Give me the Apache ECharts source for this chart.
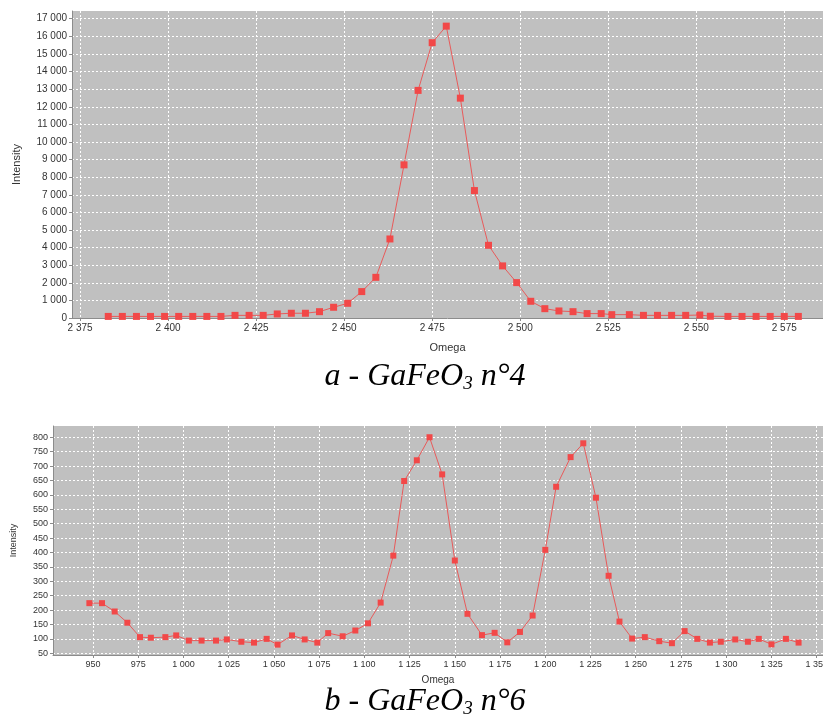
<!DOCTYPE html>
<html><head><meta charset="utf-8">
<script src="https://cdn.jsdelivr.net/npm/echarts@6/dist/echarts.min.js"></script>
<style>html,body{margin:0;padding:0;background:#fff}#c{width:823px;height:715px}</style>
</head><body><div id="c"></div>
<script>
// Chart a - GaFeO3 n°4
const omegaA = [2383,2387,2391,2395,2399,2403,2407,2411,2415,2419,2423,2427,2431,2435,2439,2443,2447,2451,2455,2459,2463,2467,2471,2475,2479,2483,2487,2491,2495,2499,2503,2507,2511,2515,2519,2523,2526,2531,2535,2539,2543,2547,2551,2554,2559,2563,2567,2571,2575,2579];
const intensityA = [90,90,90,90,90,90,90,90,90,150,150,150,230,270,270,360,610,835,1500,2310,4490,8700,12930,15640,16580,12490,7240,4130,2960,2010,950,530,400,360,250,250,190,190,150,150,150,150,170,100,90,90,90,90,90,90];
const xTicksA = [2375,2400,2425,2450,2475,2500,2525,2550,2575];
const yTicksA = [0,1000,2000,3000,4000,5000,6000,7000,8000,9000,10000,11000,12000,13000,14000,15000,16000,17000];
// Chart b - GaFeO3 n°6
const omegaB = [948,955,962,969,976,982,990,996,1003,1010,1018,1024,1032,1039,1046,1052,1060,1067,1074,1080,1088,1095,1102,1109,1116,1122,1129,1136,1143,1150,1157,1165,1172,1179,1186,1193,1200,1206,1214,1221,1228,1235,1241,1248,1255,1263,1270,1277,1284,1291,1297,1305,1312,1318,1325,1333,1340];
const intensityB = [224,224,195,156,106,104,106,112,94,94,94,98,90,87,100,80,112,98,87,120,109,129,154,226,389,648,720,800,671,372,187,113,121,88,124,181,409,628,731,779,590,319,160,101,106,92,85,127,100,87,90,98,90,100,81,100,87];
const xTicksB = [950,975,1000,1025,1050,1075,1100,1125,1150,1175,1200,1225,1250,1275,1300,1325,1350];
const yTicksB = [50,100,150,200,250,300,350,400,450,500,550,600,650,700,750,800];
const captionA = ['a - GaFeO', '3', ' n°4'];
const captionB = ['b - GaFeO', '3', ' n°6'];

function fmt(v){ return String(Math.round(v)).replace(/\B(?=(\d{3})+(?!\d))/g,' '); }

const lineColor = '#e85a5a';
const markColor = '#f24848';
const gridLine = {show:true, lineStyle:{color:'#ffffff', type:[2,2], width:1}};
const axisL = {show:true, lineStyle:{color:'#8c8c8c'}};
const sans = 'Liberation Sans, Arial, sans-serif';
const serifRich = (fs, sfs) => ({
  m:{fontFamily:'Liberation Serif',fontStyle:'italic',fontWeight:'normal',fontSize:fs,color:'#000',lineHeight:34,verticalAlign:'bottom'},
  s:{fontFamily:'Liberation Serif',fontStyle:'italic',fontWeight:'normal',fontSize:sfs,color:'#000',lineHeight:34,verticalAlign:'bottom'}
});

function xAx(grid, ticks, min, max, fs, nfs, gap){
  return {type:'value', gridIndex:grid, min:min, max:max, name:'Omega', nameLocation:'middle', nameGap:gap,
    nameTextStyle:{fontFamily:sans,fontSize:nfs,color:'#333'},
    axisLine:axisL, axisTick:{show:true,length:3,lineStyle:{color:'#8c8c8c'},customValues:ticks},
    axisLabel:{fontFamily:sans,fontSize:fs,color:'#333',margin:5,formatter:fmt,customValues:ticks},
    splitLine:gridLine};
}
function yAx(grid, ticks, min, max, fs, nfs, gap){
  return {type:'value', gridIndex:grid, min:min, max:max, name:'Intensity', nameLocation:'middle', nameGap:gap, nameRotate:90,
    nameTextStyle:{fontFamily:sans,fontSize:nfs,color:'#333'},
    axisLine:axisL, axisTick:{show:true,length:3,lineStyle:{color:'#8c8c8c'},customValues:ticks},
    axisLabel:{fontFamily:sans,fontSize:fs,color:'#333',margin:5,formatter:fmt,customValues:ticks},
    splitLine:gridLine};
}

const chart = echarts.init(document.getElementById('c'), null, {renderer:'canvas'});
chart.setOption({
  animation:false,
  backgroundColor:'#ffffff',
  title:[
    {text:'{m|'+captionA[0]+'}{s|'+captionA[1]+'}{m|'+captionA[2]+'}', left:420, top:354, textAlign:'center',
     textStyle:{fontWeight:'normal', rich:serifRich(32,19)}},
    {text:'{m|'+captionB[0]+'}{s|'+captionB[1]+'}{m|'+captionB[2]+'}', left:420, top:679, textAlign:'center',
     textStyle:{fontWeight:'normal', rich:serifRich(32,19)}}
  ],
  grid:[
    {left:72, top:11, width:751, height:307, show:true, backgroundColor:'#c0c0c0', borderWidth:0, outerBoundsMode:'none', containLabel:false},
    {left:53, top:426, width:770, height:229, show:true, backgroundColor:'#c0c0c0', borderWidth:0, outerBoundsMode:'none', containLabel:false}
  ],
  xAxis:[ xAx(0, xTicksA, 2372.7, 2586, 10, 11, 24), xAx(1, xTicksB, 927.9, 1353.5, 9, 10, 20) ],
  yAxis:[ yAx(0, yTicksA, 0, 17440, 10, 11, 50), yAx(1, yTicksB, 44, 839, 9, 9, 35) ],
  series:[
    {type:'line', xAxisIndex:0, yAxisIndex:0, data:omegaA.map((x,i)=>[x,intensityA[i]]),
     symbol:'rect', symbolSize:7, itemStyle:{color:markColor}, lineStyle:{color:lineColor,width:1}},
    {type:'line', xAxisIndex:1, yAxisIndex:1, data:omegaB.map((x,i)=>[x,intensityB[i]]),
     symbol:'rect', symbolSize:6, itemStyle:{color:markColor}, lineStyle:{color:lineColor,width:1}}
  ]
});
</script></body></html>
